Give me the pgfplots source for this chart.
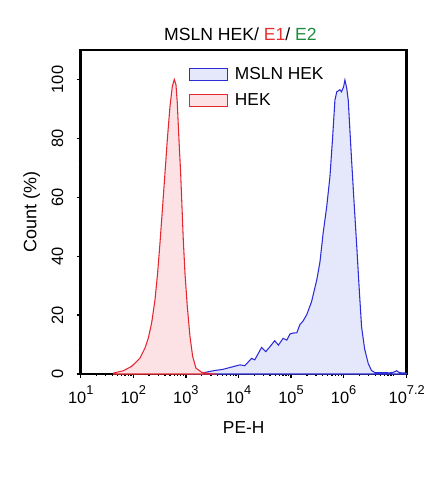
\documentclass[border=0pt]{standalone}
\usepackage{pgfplots}
\pgfplotsset{compat=1.18}
\usepackage{fontspec}
\setmainfont{Liberation Sans}
\definecolor{bline}{RGB}{45,45,215}
\definecolor{bfill}{RGB}{229,231,251}
\definecolor{rline}{RGB}{228,38,48}
\definecolor{rfill}{RGB}{252,226,228}
\definecolor{eone}{RGB}{232,48,52}
\definecolor{etwo}{RGB}{30,140,60}
\newcommand{\ex}[1]{10\raisebox{6.5pt}{\fontsize{9.6}{10}\selectfont #1}}
\pgfplotstableread{
lx y
3.00 0.1
3.30 0.3
3.52 1.1
3.71 1.6
3.90 2.5
4.03 3.1
4.12 2.8
4.25 5.3
4.31 4.8
4.44 9.0
4.52 7.6
4.60 9.3
4.69 11.3
4.76 9.8
4.85 12.1
4.92 11.5
4.98 13.6
5.04 13.9
5.11 14.0
5.17 16.8
5.23 18.0
5.30 20.2
5.39 24.5
5.49 32
5.55 38
5.61 47.7
5.68 57
5.74 67
5.79 80
5.835 93
5.87 95.8
5.93 96.5
5.96 95.8
6.00 97.5
6.025 99.8
6.06 97
6.088 93
6.152 72.6
6.20 58
6.247 44.3
6.30 28
6.342 16
6.40 8.5
6.468 3.6
6.53 1.2
6.595 0.5
6.88 0.4
6.95 0.6
7.008 1.1
7.06 0.5
7.10 0.4
7.20 0.3
}\mslndata
\pgfplotstableread{
lx y
1.620 0.3
1.810 1.1
1.969 2.6
2.127 5.4
2.222 8.8
2.286 12.2
2.349 17.3
2.413 25.2
2.463 34.3
2.508 44.5
2.558 56.9
2.603 68.2
2.647 79.5
2.698 90.8
2.742 97.6
2.780 100
2.812 98.2
2.837 92
2.869 79.5
2.901 68.2
2.926 56.9
2.951 45.6
2.983 34.3
3.027 23
3.078 12.8
3.129 6
3.192 2
3.300 0.6
3.458 0.1
3.585 0
}\hekdata
\begin{document}
\begin{tikzpicture}
\begin{axis}[
  at={(0,0)}, anchor=south west,
  scale only axis, width=244.5pt, height=243pt,
  xmin=1, xmax=7.2, ymin=0, ymax=110,
  axis line style={line width=1.9pt},
  tick style={line width=1pt, black},
  tick align=outside,
  major tick length=3pt, minor tick length=1.6pt,
  xtick pos=bottom, ytick pos=left,
  xtick={1,2,3,4,5,6,7.2},
  xticklabels={\ex{1},\ex{2},\ex{3},\ex{4},\ex{5},\ex{6},\ex{7.2}},
  minor xtick={1.301,1.477,1.602,1.699,1.778,1.845,1.903,1.954,
               2.301,2.477,2.602,2.699,2.778,2.845,2.903,2.954,
               3.301,3.477,3.602,3.699,3.778,3.845,3.903,3.954,
               4.301,4.477,4.602,4.699,4.778,4.845,4.903,4.954,
               5.301,5.477,5.602,5.699,5.778,5.845,5.903,5.954,
               6.301,6.477,6.602,6.699,6.778,6.845,6.903,6.954},
  ytick={0,20,40,60,80,100},
  minor y tick num=7,
  /pgf/number format/assume math mode=true,
  ticklabel style={font=\fontsize{12.3}{14}\selectfont},
  xticklabel style={yshift=-2.5pt},
  yticklabel style={xshift=-6.5pt, rotate=90, anchor=south},
  xlabel={PE-H}, ylabel={Count (\%)},
  label style={font=\fontsize{13}{15}\selectfont},
  xlabel style={at={(axis description cs:0.5,-0.164)}, anchor=center},
  ylabel style={at={(axis description cs:-0.15,0.5)}, anchor=center, font=\fontsize{13.5}{15}\selectfont},
  title={MSLN HEK/ \textcolor{eone}{E1}/ \textcolor{etwo}{E2}},
  title style={font=\fontsize{13.2}{15}\selectfont, at={(0.49,1)}, anchor=base, yshift=1pt},
  legend style={draw=none, fill=none, at={(0.33,0.955)}, anchor=north west,
    font=\fontsize{13}{15}\selectfont, row sep=5pt, inner sep=0pt,
    /tikz/every odd column/.append style={column sep=3.5pt}},
  legend cell align=left,
]
\addplot[draw=bline, fill=bfill, line width=0.8pt,
  legend image code/.code={\draw[draw=bline, fill=bfill, line width=0.8pt] (0pt,-4.3pt) rectangle (28.5pt,4.3pt);}]
  table[x=lx, y=y] {\mslndata} \closedcycle;
\addlegendentry{MSLN HEK}
\addplot[draw=rline, fill=rfill, line width=0.8pt,
  legend image code/.code={\draw[draw=rline, fill=rfill, line width=0.8pt] (0pt,-4.3pt) rectangle (28.5pt,4.3pt);}]
  table[x=lx, y=y] {\hekdata} \closedcycle;
\addlegendentry{HEK}
\end{axis}
\pgfresetboundingbox
\path (-60.525pt,-77.25pt) rectangle (273.975pt,280.5pt);
\end{tikzpicture}
\end{document}
